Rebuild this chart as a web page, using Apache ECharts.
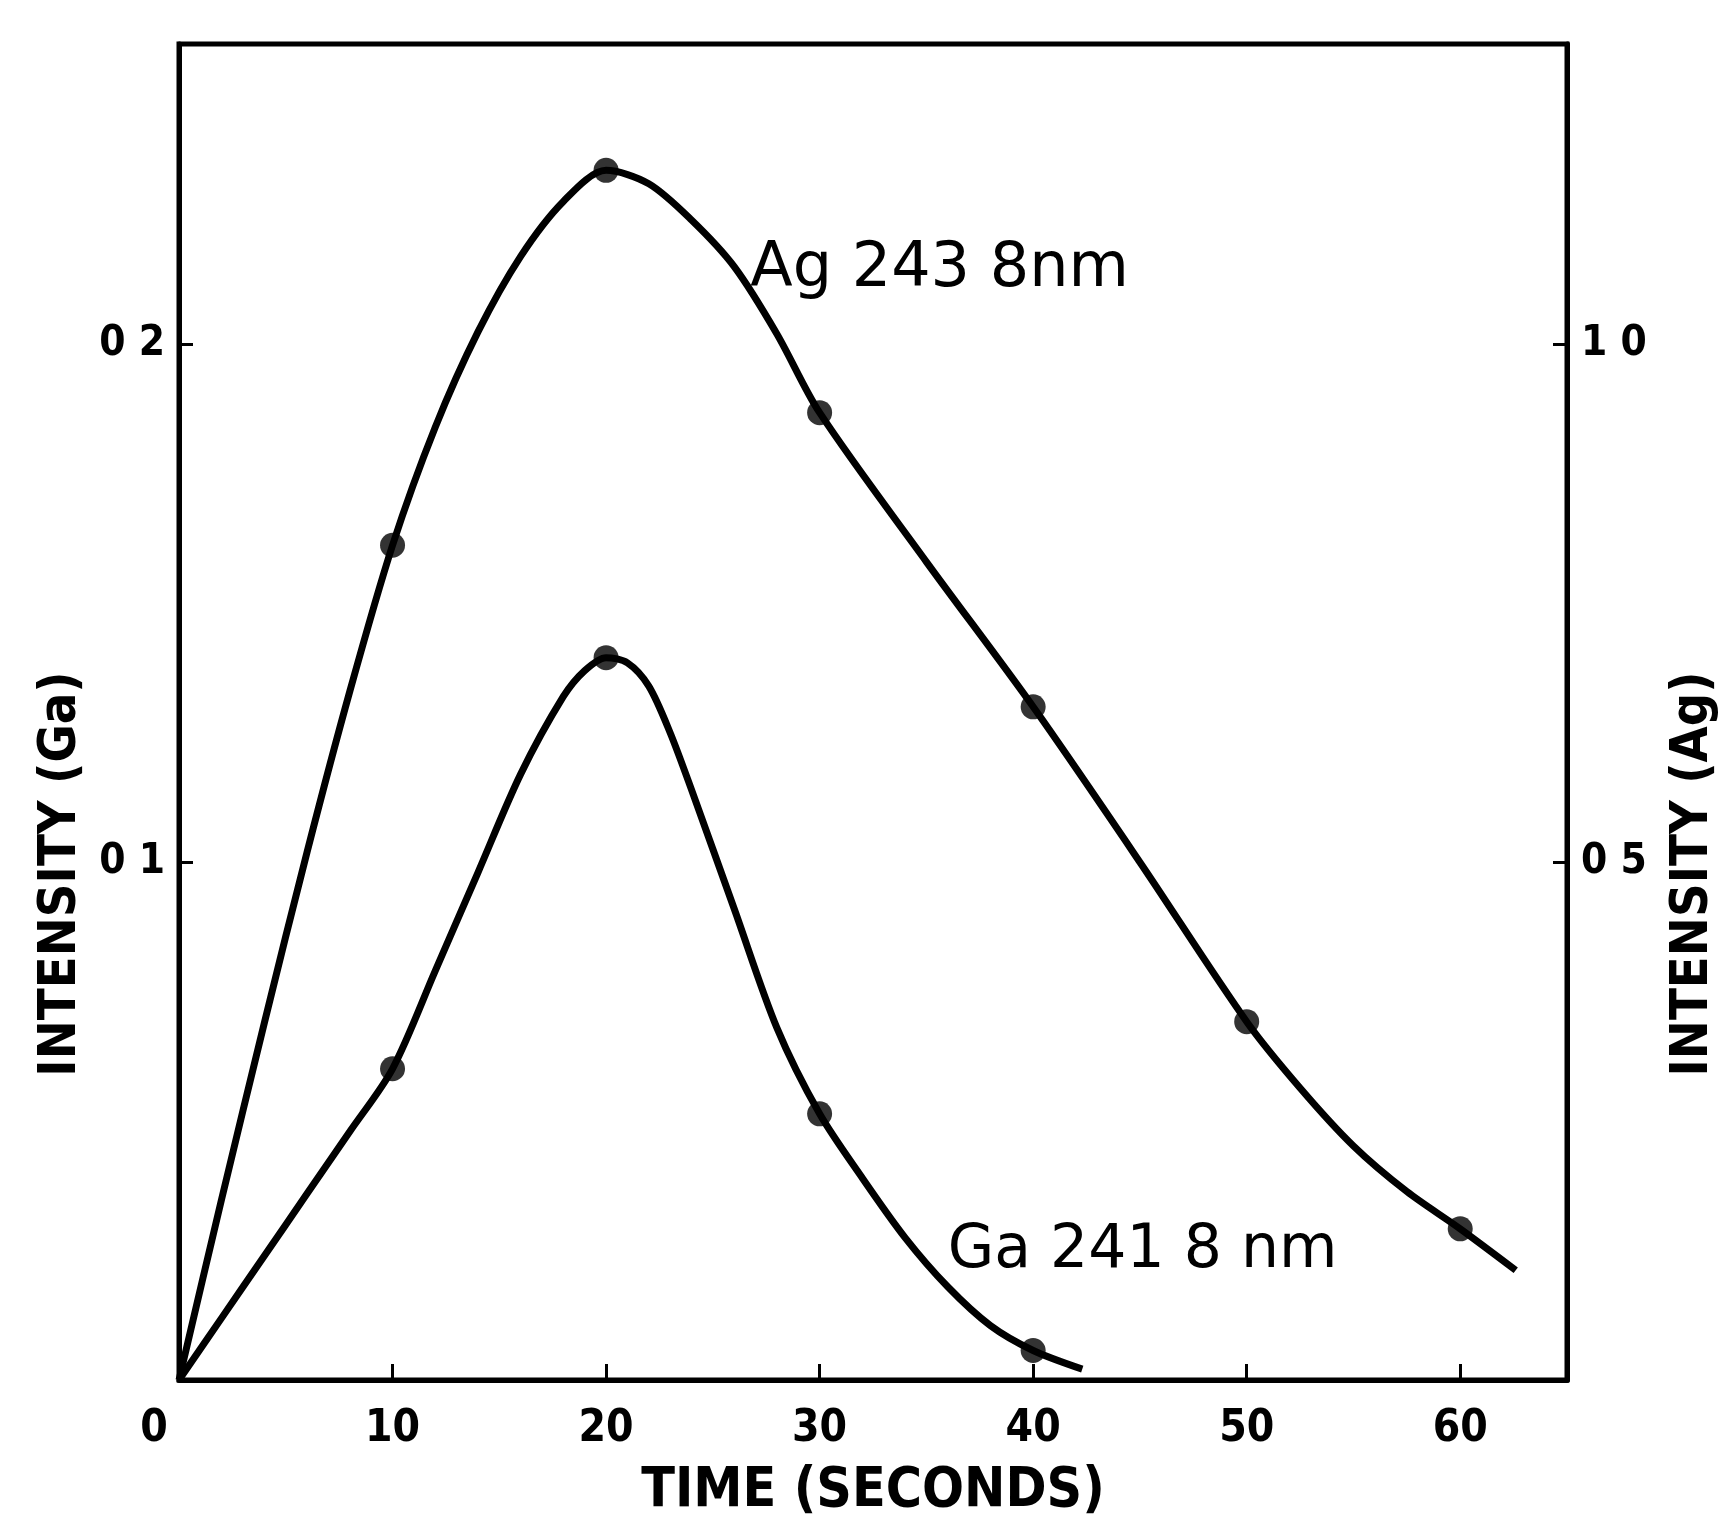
<!DOCTYPE html>
<html>
<head>
<meta charset="utf-8">
<script src="https://cdn.jsdelivr.net/npm/echarts@6/dist/echarts.min.js"></script>
<style>
  html, body { margin: 0; padding: 0; background: #fff; }
  #chart { width: 1724px; height: 1522px; }
</style>
</head>
<body>
<div id="chart"></div>
<script>
// ---------- data ----------
const xTickValues = [0, 10, 20, 30, 40, 50, 60];
const xTickLabels = ['0', '10', '20', '30', '40', '50', '60'];
const gaTickValues = [0.1, 0.2];
const gaTickLabels = ['0 1', '0 2'];
const agTickValues = [0.5, 1.0];
const agTickLabels = ['0 5', '1 0'];

// Ga 241 8 nm  (left axis) – curve as traced
const gaCurveT = [0, 2, 4, 6, 8, 10, 12, 14, 16, 18, 19, 20, 21, 22, 23, 24, 26, 28, 30, 32, 34, 36, 38, 40, 42.3];
const gaCurveV = [0, 0.012, 0.024, 0.036, 0.048, 0.0601, 0.079, 0.098, 0.117, 0.132, 0.137, 0.1395, 0.1385, 0.134, 0.125, 0.114, 0.091, 0.068, 0.0514, 0.039, 0.0275, 0.018, 0.0105, 0.0057, 0.0021];
const gaPointT = [10, 20, 30, 40];
const gaPointV = [0.0601, 0.1395, 0.0514, 0.0057];

// Ag 243 8 nm  (right axis) – curve as traced
const agCurveT = [0, 2, 4, 6, 8, 10, 12, 14, 16, 18, 20, 22, 24, 26, 28, 30, 35, 40, 45, 50, 52.5, 55, 57.5, 60, 62.6];
const agCurveV = [0, 0.175, 0.345, 0.51, 0.665, 0.806, 0.92, 1.012, 1.085, 1.138, 1.168, 1.155, 1.12, 1.075, 1.01, 0.934, 0.79, 0.650, 0.50, 0.346, 0.282, 0.226, 0.182, 0.146, 0.106];
const agPointT = [10, 20, 30, 40, 50, 60];
const agPointV = [0.806, 1.168, 0.934, 0.650, 0.346, 0.146];

const agLabel = 'Ag 243 8nm';
const agLabelAt = [26.75, 1.072];
const gaLabel = 'Ga 241 8 nm';
const gaLabelAt = [36.0, 0.0248];

// ---------- build ----------
const zip = (a, b) => a.map((v, i) => [v, b[i]]);
const FONT = "'DejaVu Sans Condensed', 'Liberation Sans Narrow', 'Liberation Sans', sans-serif";
const WIDE = "'DejaVu Sans', 'Liberation Sans', sans-serif";
const BLACK = '#000';

const chart = echarts.init(document.getElementById('chart'), null, { renderer: 'canvas' });

const option = {
  backgroundColor: '#fff',
  animation: false,
  grid: {
    left: 179, right: 157, top: 44, bottom: 142,
    outerBoundsMode: 'none', containLabel: false,
    show: true, borderColor: BLACK, borderWidth: 5, backgroundColor: 'transparent'
  },
  xAxis: {
    type: 'value', min: 0, max: 65, interval: 10,
    name: 'TIME (SECONDS)', nameLocation: 'middle', nameGap: 84,
    nameTextStyle: { fontFamily: FONT, fontSize: 55, color: BLACK, fontWeight: 'bold' },
    axisLine: { show: true, lineStyle: { color: BLACK, width: 5 } },
    axisTick: { show: true, inside: true, length: 16, lineStyle: { color: BLACK, width: 3 } },
    splitLine: { show: false },
    axisLabel: {
      margin: 28, fontFamily: FONT, fontSize: 44, color: BLACK, fontWeight: 'bold',
      formatter: v => {
        const i = xTickValues.indexOf(v);
        if (i < 0) return '';
        return i === 0 ? '{z|' + xTickLabels[i] + '}' : xTickLabels[i];
      },
      rich: { z: { fontFamily: FONT, fontSize: 44, color: BLACK, fontWeight: 'bold', padding: [0, 50, 0, 0] } }
    }
  },
  yAxis: [
    {
      type: 'value', min: 0, max: 0.258, interval: 0.1, position: 'left',
      name: 'INTENSITY (Ga)', nameLocation: 'middle', nameRotate: 90, nameGap: 92,
      nameTextStyle: { fontFamily: FONT, fontSize: 52, color: BLACK, fontWeight: 'bold', padding: [0, 324, 0, 0] },
      axisLine: { show: true, lineStyle: { color: BLACK, width: 5 } },
      axisTick: { show: true, inside: true, length: 14, lineStyle: { color: BLACK, width: 3 } },
      splitLine: { show: false },
      axisLabel: {
        margin: 14, fontFamily: FONT, fontSize: 42, color: BLACK, fontWeight: 'bold',
        formatter: v => {
          const i = gaTickValues.findIndex(t => Math.abs(t - v) < 1e-9);
          return i < 0 ? '' : gaTickLabels[i];
        }
      }
    },
    {
      type: 'value', min: 0, max: 1.29, interval: 0.5, position: 'right',
      name: 'INTENSITY (Ag)', nameLocation: 'middle', nameRotate: 90, nameGap: 100,
      nameTextStyle: { fontFamily: FONT, fontSize: 52, color: BLACK, fontWeight: 'bold', padding: [0, 324, 0, 0] },
      axisLine: { show: true, lineStyle: { color: BLACK, width: 5 } },
      axisTick: { show: true, inside: true, length: 14, lineStyle: { color: BLACK, width: 3 } },
      splitLine: { show: false },
      axisLabel: {
        margin: 14, fontFamily: FONT, fontSize: 42, color: BLACK, fontWeight: 'bold',
        formatter: v => {
          const i = agTickValues.findIndex(t => Math.abs(t - v) < 1e-9);
          return i < 0 ? '' : agTickLabels[i];
        }
      }
    }
  ],
  series: [
    {
      name: 'Ga curve', type: 'line', yAxisIndex: 0, smooth: 0.3,
      data: zip(gaCurveT, gaCurveV), showSymbol: false, symbol: 'none',
      lineStyle: { color: BLACK, width: 7 },
      markPoint: {
        symbol: 'circle', symbolSize: 0,
        label: { show: true, position: 'right', distance: 0, formatter: gaLabel,
          fontFamily: WIDE, fontSize: 60, color: BLACK },
        data: [{ coord: gaLabelAt }]
      }
    },
    {
      name: 'Ga points', type: 'scatter', yAxisIndex: 0,
      data: zip(gaPointT, gaPointV), symbol: 'circle', symbolSize: 25,
      itemStyle: { color: BLACK }
    },
    {
      name: 'Ag curve', type: 'line', yAxisIndex: 1, smooth: 0.3,
      data: zip(agCurveT, agCurveV), showSymbol: false, symbol: 'none',
      lineStyle: { color: BLACK, width: 7 },
      markPoint: {
        symbol: 'circle', symbolSize: 0,
        label: { show: true, position: 'right', distance: 0, formatter: agLabel,
          fontFamily: WIDE, fontSize: 62, color: BLACK },
        data: [{ coord: agLabelAt }]
      }
    },
    {
      name: 'Ag points', type: 'scatter', yAxisIndex: 1,
      data: zip(agPointT, agPointV), symbol: 'circle', symbolSize: 25,
      itemStyle: { color: BLACK }
    }
  ]
};
chart.setOption(option);
</script>
</body>
</html>
